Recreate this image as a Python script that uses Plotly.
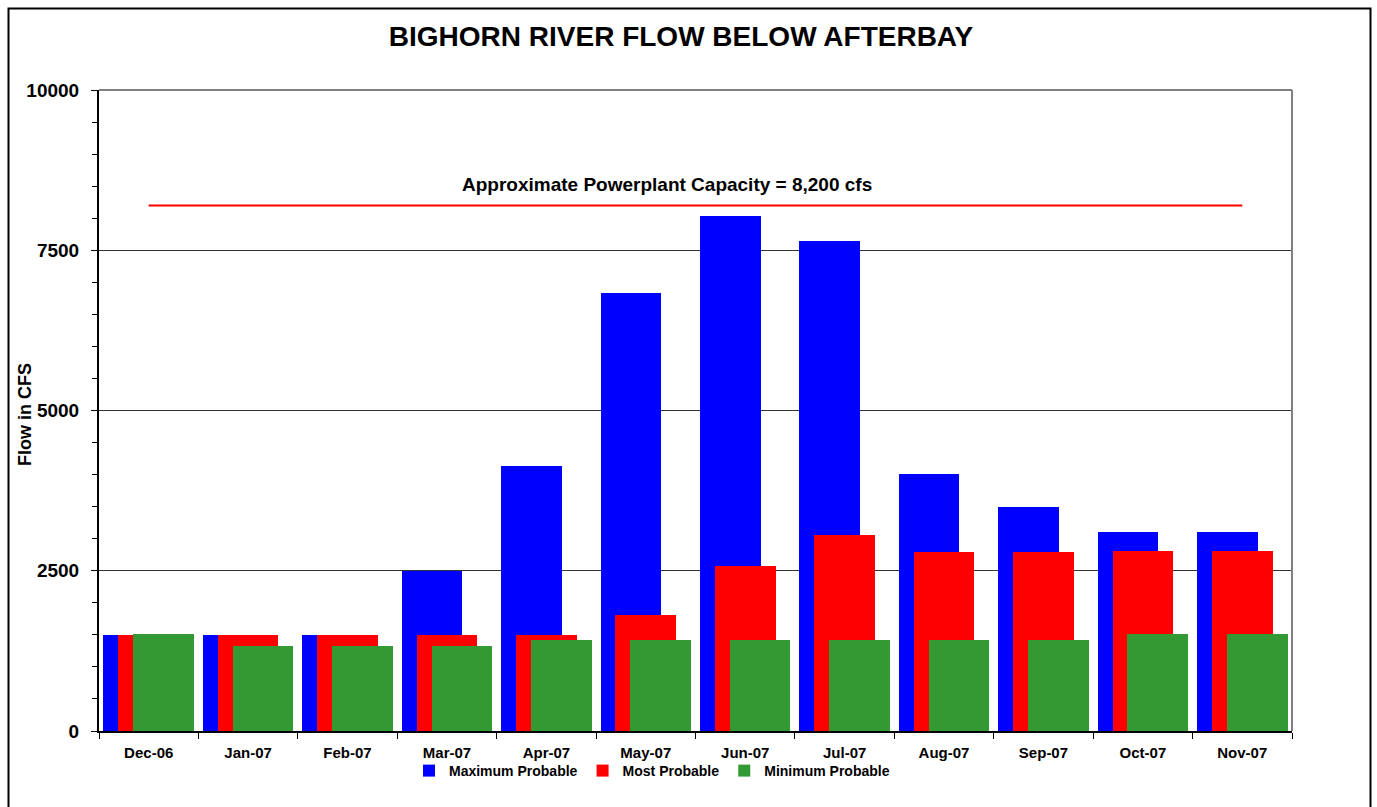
import plotly.graph_objects as go

months = ["Dec-06", "Jan-07", "Feb-07", "Mar-07", "Apr-07", "May-07",
          "Jun-07", "Jul-07", "Aug-07", "Sep-07", "Oct-07", "Nov-07"]
max_probable = [1500, 1500, 1500, 2500, 4130, 6830, 8040, 7640, 4010, 3500, 3110, 3110]
most_probable = [1500, 1500, 1500, 1500, 1500, 1810, 2570, 3060, 2800, 2800, 2810, 2810]
min_probable = [1520, 1330, 1330, 1330, 1420, 1420, 1420, 1420, 1420, 1420, 1520, 1520]
y_tick_values = [0, 2500, 5000, 7500, 10000]
y_tick_labels = ["0", "2500", "5000", "7500", "10000"]
capacity = 8200
capacity_label = "Approximate Powerplant Capacity = 8,200 cfs"
y_title = "Flow in CFS"

W, H = 1377, 807
L, R, T, B = 99, 1292, 90, 731
FONT = "Liberation Sans, Arial, sans-serif"

fig = go.Figure()
bw = 0.61
series = [
    ("Maximum Probable", max_probable, "#0000FF", -0.15),
    ("Most Probable", most_probable, "#FF0000", 0.0),
    ("Minimum Probable", min_probable, "#339933", 0.15),
]
for name, vals, col, c in series:
    fig.add_trace(go.Bar(
        x=months, y=vals, name=name, width=bw, offset=c - bw / 2,
        marker=dict(color=col, line=dict(width=0)),
    ))

fig.add_trace(go.Scatter(
    x=[months[0], months[-1]], y=[capacity, capacity], mode="lines",
    line=dict(color="#FF0000", width=2), showlegend=False, hoverinfo="skip",
))

fig.add_annotation(
    x=5.21, y=capacity, xref="x", yref="y", yshift=21, text="<b>" + capacity_label + "</b>",
    showarrow=False, font=dict(family=FONT, size=19, color="black"),
)

pw, ph = R - L, B - T
def px(x):
    return (x - L) / pw
def py(y):
    return (B - y) / ph

fig.add_annotation(
    x=px(25), y=py(415), xref="paper", yref="paper", text="<b>" + y_title + "</b>",
    textangle=-90, showarrow=False, xanchor="center", yanchor="middle",
    font=dict(family=FONT, size=18, color="black"),
)

fig.add_shape(type="rect", xref="paper", yref="paper",
              x0=px(8.5), x1=px(1370.5), y0=py(812), y1=py(8.5),
              line=dict(color="black", width=2), fillcolor="rgba(0,0,0,0)", layer="below")

fig.update_layout(
    width=W, height=H,
    margin=dict(l=L, r=W - R, t=T, b=H - B, pad=0),
    paper_bgcolor="white", plot_bgcolor="white",
    barmode="overlay", bargap=0,
    title=dict(text="<b>BIGHORN RIVER FLOW BELOW AFTERBAY</b>", x=681 / W, xanchor="center",
               y=1 - 36 / H, yanchor="middle",
               font=dict(family=FONT, size=28, color="black")),
    font=dict(family=FONT, color="black"),
    legend=dict(orientation="h", x=px(652), xanchor="center", y=py(771), yanchor="middle",
                font=dict(family=FONT, size=14, color="black", weight="bold"),
                itemwidth=30, tracegroupgap=0, bgcolor="rgba(0,0,0,0)"),
    showlegend=True,
)

fig.update_xaxes(
    type="category", categoryorder="array", categoryarray=months,
    range=[-0.5, 11.5], tickson="boundaries", ticks="outside", ticklen=6,
    tickcolor="black", showline=True, linecolor="black", linewidth=2,
    showgrid=False, tickfont=dict(family=FONT, size=15, color="black", weight="bold"),
    ticklabelstandoff=7,
)
fig.update_yaxes(
    range=[0, 10000], tickvals=y_tick_values, ticktext=y_tick_labels,
    ticks="outside", ticklen=6, tickcolor="black", showline=True,
    linecolor="black", linewidth=2, showgrid=True, gridcolor="#333333", gridwidth=1,
    tickfont=dict(family=FONT, size=19, color="black", weight="bold"),
    ticklabelstandoff=8,
    minor=dict(dtick=500, ticks="outside", ticklen=5, tickcolor="black", showgrid=False),
    zeroline=False,
)

fig.add_shape(type="line", xref="paper", yref="paper", x0=1, x1=1, y0=0, y1=1,
              line=dict(color="#808080", width=2))
fig.add_shape(type="line", xref="paper", yref="paper", x0=0, x1=1, y0=1, y1=1,
              line=dict(color="#808080", width=2))

fig.write_html("out.html", config={"displayModeBar": False},
               post_script="document.body.style.margin='0';")
